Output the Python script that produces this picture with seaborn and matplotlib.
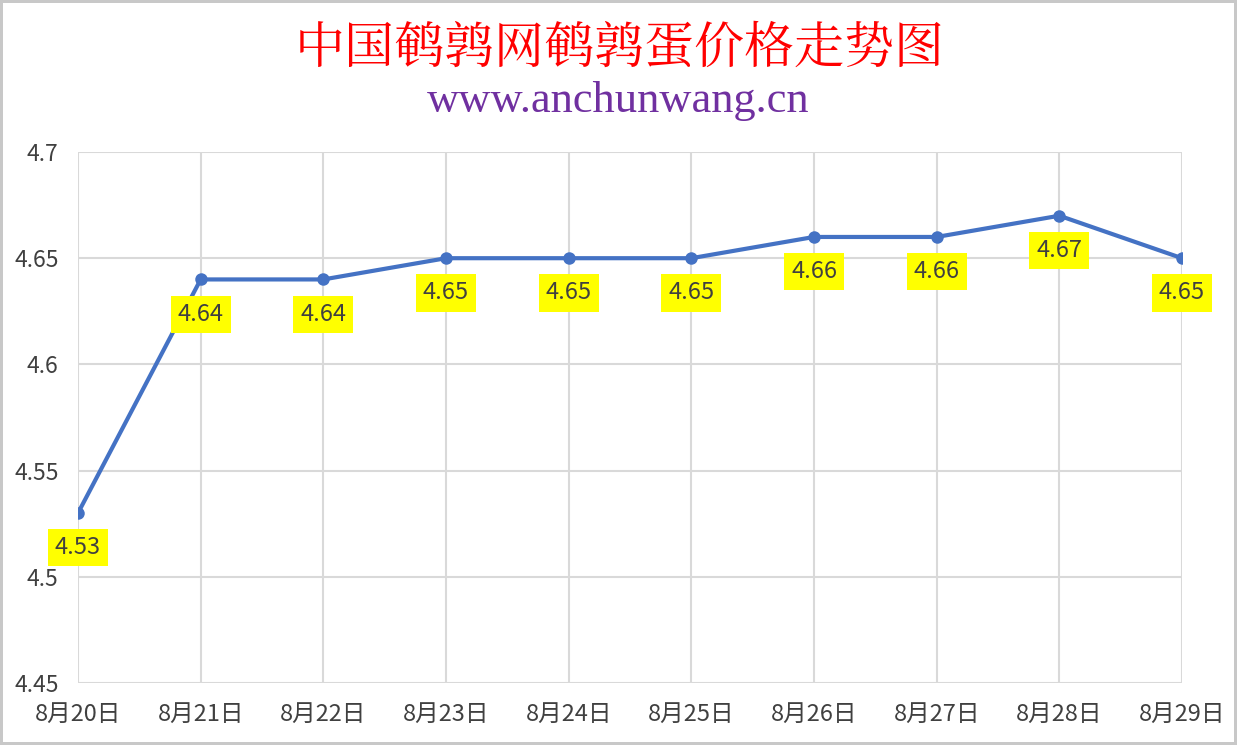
import matplotlib
matplotlib.use('Agg')
import matplotlib.pyplot as plt
import seaborn as sns
import pandas as pd

# podaci s grafa
dates = ['8月20日', '8月21日', '8月22日', '8月23日', '8月24日',
         '8月25日', '8月26日', '8月27日', '8月28日', '8月29日']
prices = [4.53, 4.64, 4.64, 4.65, 4.65, 4.65, 4.66, 4.66, 4.67, 4.65]
y_ticks = [4.45, 4.5, 4.55, 4.6, 4.65, 4.7]
y_tick_labels = ['4.45', '4.5', '4.55', '4.6', '4.65', '4.7']

title = '中国鹌鹑网鹌鹑蛋价格走势图'
subtitle = 'www.anchunwang.cn'

sns.set_theme(style='white')
plt.rcParams['font.family'] = ['Noto Sans CJK SC', 'DejaVu Sans']

df = pd.DataFrame({'pos': range(len(dates)), 'price': prices})

fig = plt.figure(figsize=(12.37, 7.45), dpi=100)
fig.patch.set_edgecolor('#C8C8C8')
fig.patch.set_linewidth(3)
ax = fig.add_axes([78/1237, 1 - 683/745, (1182 - 78)/1237, (683 - 152)/745])

sns.lineplot(data=df, x='pos', y='price', ax=ax, color='#4472C4',
             linewidth=3, marker='o', markersize=9, markeredgewidth=0)

for x, y in zip(df['pos'], df['price']):
    ax.annotate(f'{y:.2f}', (x, y), xytext=(0, -25), textcoords='offset points',
                ha='center', va='center', fontsize=17, color='#404040',
                bbox=dict(boxstyle='square,pad=0.3', facecolor='#FFFF00', edgecolor='none'))

ax.set_xlim(0, len(dates) - 1)
ax.set_ylim(4.45, 4.7)
ax.set_xticks(range(len(dates)))
ax.set_xticklabels(dates)
ax.set_yticks(y_ticks)
ax.set_yticklabels(y_tick_labels)
ax.set_xlabel('')
ax.set_ylabel('')
ax.grid(True, color='#D9D9D9', linewidth=1.5)
ax.set_axisbelow(True)
for s in ax.spines.values():
    s.set_visible(False)
ax.tick_params(axis='y', labelsize=16.5, colors='#404040', length=0, pad=14)
ax.tick_params(axis='x', labelsize=17, colors='#404040', length=0, pad=14)

fig.text(620/1237, 1 - 49/745, title, ha='center', va='center', fontsize=36,
         color='#FF0000', family=['Noto Serif CJK SC', 'Noto Sans CJK SC'])
fig.text(618/1237, 1 - 101/745, subtitle, ha='center', va='center', fontsize=32,
         color='#7030A0', family=['Liberation Serif', 'DejaVu Serif'])

fig.savefig('out.png', dpi=100)
